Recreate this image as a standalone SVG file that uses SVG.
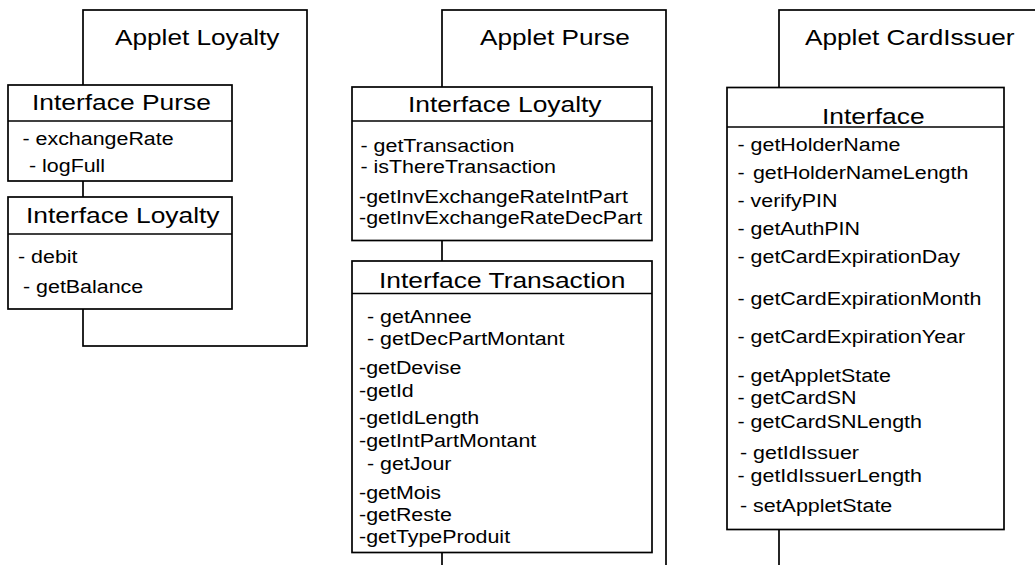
<svg xmlns="http://www.w3.org/2000/svg" width="1035" height="565" viewBox="0 0 1035 565">
  <style>
    .frame { fill: #fff; stroke: #000; stroke-width: 1.7; }
    .box { fill: #fff; stroke: #000; stroke-width: 1.7; }
    .sep { stroke: #000; stroke-width: 1.7; fill: none; }
    text { font-family: "Liberation Sans", Arial, sans-serif; fill: #000; }
    .applet { font-size: 22px; }
    .head { font-size: 22px; }
    .m { font-size: 18px; }
  </style>
  <rect width="1035" height="565" fill="#fff"/>

  <!-- Applet Loyalty -->
  <g id="applet-loyalty">
    <rect class="frame" x="83" y="10" width="224" height="336"/>
    <text class="applet" transform="matrix(1.19 0 0 1 115 45)">Applet Loyalty</text>
    <g id="loyalty-interface-purse">
      <rect class="box" x="8" y="85" width="224" height="96"/>
      <line class="sep" x1="8" y1="121" x2="232" y2="121"/>
      <text class="head" transform="matrix(1.2 0 0 1 32 110)">Interface Purse</text>
      <text class="m" transform="matrix(1.19 0 0 1 22.5 145)">- exchangeRate</text>
      <text class="m" transform="matrix(1.19 0 0 1 29 171.5)">- logFull</text>
    </g>
    <g id="loyalty-interface-loyalty">
      <rect class="box" x="8" y="197" width="224" height="112"/>
      <line class="sep" x1="8" y1="234" x2="232" y2="234"/>
      <text class="head" transform="matrix(1.2 0 0 1 26 222.5)">Interface Loyalty</text>
      <text class="m" transform="matrix(1.19 0 0 1 18 263)">- debit</text>
      <text class="m" transform="matrix(1.19 0 0 1 23 293)">- getBalance</text>
    </g>
  </g>

  <!-- Applet Purse -->
  <g id="applet-purse">
    <rect class="frame" x="442" y="10" width="224" height="600"/>
    <text class="applet" transform="matrix(1.19 0 0 1 480 44.5)">Applet Purse</text>
    <g id="purse-interface-loyalty">
      <rect class="box" x="352" y="87" width="300" height="153.5"/>
      <line class="sep" x1="352" y1="121" x2="652" y2="121"/>
      <text class="head" transform="matrix(1.2 0 0 1 408 111.5)">Interface Loyalty</text>
      <text class="m" transform="matrix(1.19 0 0 1 360.5 151.5)">- getTransaction</text>
      <text class="m" transform="matrix(1.19 0 0 1 360.5 172.5)">- isThereTransaction</text>
      <text class="m" transform="matrix(1.19 0 0 1 359 203)">-getInvExchangeRateIntPart</text>
      <text class="m" transform="matrix(1.19 0 0 1 359 224)">-getInvExchangeRateDecPart</text>
    </g>
    <g id="purse-interface-transaction">
      <rect class="box" x="352" y="261" width="300" height="291.5"/>
      <line class="sep" x1="352" y1="293.5" x2="652" y2="293.5"/>
      <text class="head" transform="matrix(1.2 0 0 1 379 287.5)">Interface Transaction</text>
      <text class="m" transform="matrix(1.19 0 0 1 367 322.5)">- getAnnee</text>
      <text class="m" transform="matrix(1.19 0 0 1 367 345)">- getDecPartMontant</text>
      <text class="m" transform="matrix(1.19 0 0 1 359 374)">-getDevise</text>
      <text class="m" transform="matrix(1.19 0 0 1 359 396.5)">-getId</text>
      <text class="m" transform="matrix(1.19 0 0 1 359 424)">-getIdLength</text>
      <text class="m" transform="matrix(1.19 0 0 1 359 446.5)">-getIntPartMontant</text>
      <text class="m" transform="matrix(1.19 0 0 1 367 470)">- getJour</text>
      <text class="m" transform="matrix(1.19 0 0 1 359 499)">-getMois</text>
      <text class="m" transform="matrix(1.19 0 0 1 359 520.5)">-getReste</text>
      <text class="m" transform="matrix(1.19 0 0 1 359 542.5)">-getTypeProduit</text>
    </g>
  </g>

  <!-- Applet CardIssuer -->
  <g id="applet-cardissuer">
    <rect class="frame" x="779" y="10" width="400" height="600"/>
    <text class="applet" transform="matrix(1.19 0 0 1 805 44.5)">Applet CardIssuer</text>
    <g id="cardissuer-interface">
      <rect class="box" x="727" y="87.5" width="277" height="442"/>
      <line class="sep" x1="727" y1="127" x2="1004" y2="127"/>
      <text class="head" transform="matrix(1.2 0 0 1 822 124)">Interface</text>
      <text class="m" transform="matrix(1.19 0 0 1 737.5 150.5)">- getHolderName</text>
      <text class="m" transform="matrix(1.19 0 0 1 737.5 179)">-<tspan dx="7">getHolderNameLength</tspan></text>
      <text class="m" transform="matrix(1.19 0 0 1 737.5 206.5)">- verifyPIN</text>
      <text class="m" transform="matrix(1.19 0 0 1 737.5 235)">- getAuthPIN</text>
      <text class="m" transform="matrix(1.19 0 0 1 737.5 263)">- getCardExpirationDay</text>
      <text class="m" transform="matrix(1.19 0 0 1 737.5 305)">- getCardExpirationMonth</text>
      <text class="m" transform="matrix(1.19 0 0 1 737.5 343)">- getCardExpirationYear</text>
      <text class="m" transform="matrix(1.19 0 0 1 737.5 381.5)">- getAppletState</text>
      <text class="m" transform="matrix(1.19 0 0 1 737.5 404)">- getCardSN</text>
      <text class="m" transform="matrix(1.19 0 0 1 737.5 427.5)">- getCardSNLength</text>
      <text class="m" transform="matrix(1.19 0 0 1 740 459)">- getIdIssuer</text>
      <text class="m" transform="matrix(1.19 0 0 1 737.5 481.5)">- getIdIssuerLength</text>
      <text class="m" transform="matrix(1.19 0 0 1 740 512)">- setAppletState</text>
    </g>
  </g>
</svg>
